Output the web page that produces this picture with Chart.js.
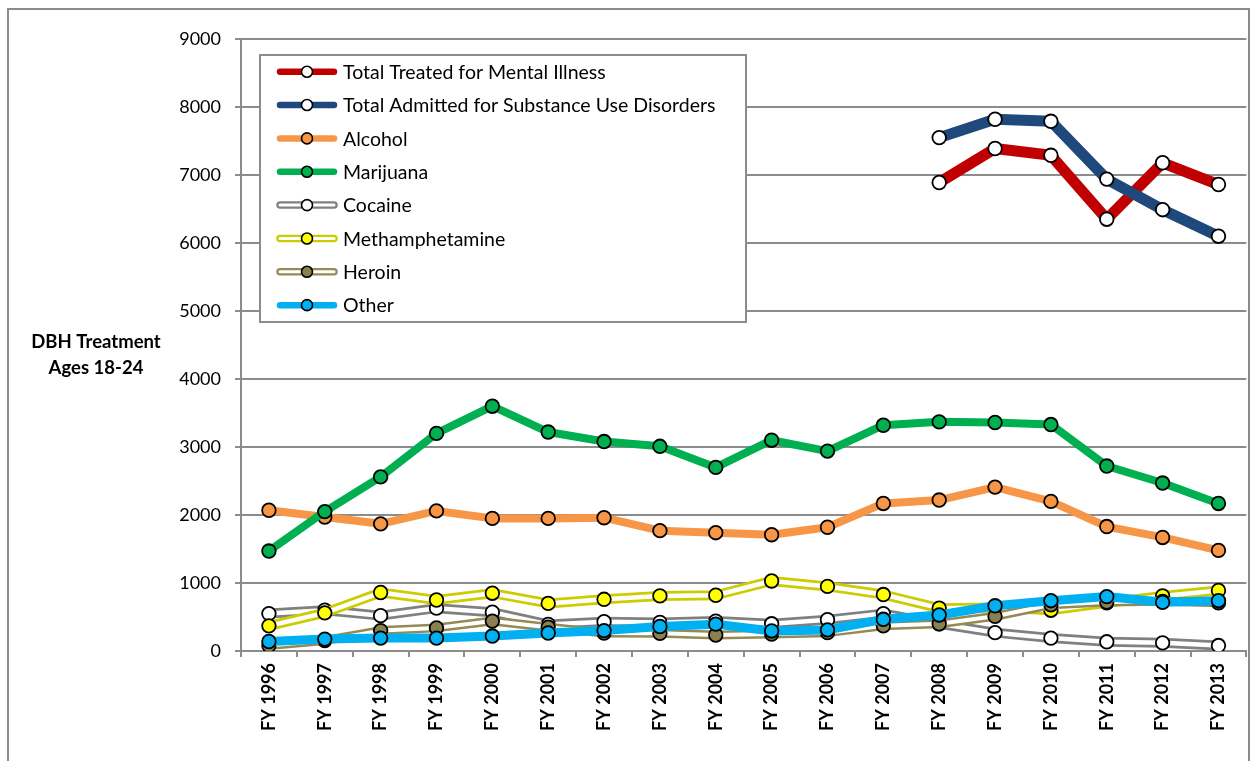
<!DOCTYPE html>
<html>
<head>
<meta charset="utf-8">
<title>DBH Treatment Ages 18-24</title>
<script src="https://cdn.jsdelivr.net/npm/chart.js@4.4.0/dist/chart.umd.min.js"></script>
<style>
    html, body { margin: 0; padding: 0; background: #fff; overflow: hidden; }
    #frame {
        position: absolute; left: 7px; top: 8px; width: 1243px; height: 800px;
        border: 2px solid #8c8c8c; box-sizing: border-box;
    }
    #chart { position: absolute; left: 0; top: 0; }
</style>
</head>
<body>
<div id="frame"></div>
<canvas id="chart" width="1255" height="761"></canvas>
<script>
const years = ['FY 1996', 'FY 1997', 'FY 1998', 'FY 1999', 'FY 2000', 'FY 2001', 'FY 2002', 'FY 2003', 'FY 2004',
               'FY 2005', 'FY 2006', 'FY 2007', 'FY 2008', 'FY 2009', 'FY 2010', 'FY 2011', 'FY 2012', 'FY 2013'];

// totals only reported from FY 2008 on
const mentalIllness = [null, null, null, null, null, null, null, null, null, null, null, null,
                       6890, 7390, 7290, 6350, 7180, 6860];
const substanceUse  = [null, null, null, null, null, null, null, null, null, null, null, null,
                       7550, 7820, 7790, 6940, 6490, 6100];

const alcohol   = [2070, 1970, 1870, 2060, 1950, 1950, 1960, 1770, 1740, 1710, 1820, 2170, 2220, 2410, 2200, 1830, 1670, 1480];
const marijuana = [1470, 2050, 2560, 3200, 3600, 3220, 3080, 3010, 2700, 3100, 2940, 3320, 3370, 3360, 3330, 2720, 2470, 2170];
const cocaine   = [550, 600, 520, 630, 570, 390, 430, 420, 440, 400, 460, 550, 400, 270, 190, 135, 120, 80];
const meth      = [370, 560, 860, 750, 850, 700, 760, 810, 820, 1030, 950, 830, 630, 640, 600, 710, 810, 890];
const heroin    = [80, 155, 300, 340, 440, 350, 265, 260, 235, 250, 270, 370, 400, 510, 680, 720, 730, 710];
const other     = [140, 175, 190, 190, 220, 265, 300, 360, 395, 295, 310, 466, 530, 665, 740, 800, 716, 740];

const yMin = 0;
const yMax = 9000;
const yStep = 1000;

const series = [
    { label: 'Total Treated for Mental Illness', data: mentalIllness, color: '#C00000', fill: '#FFFFFF', width: 11 },
    { label: 'Total Admitted for Substance Use Disorders', data: substanceUse, color: '#1F497D', fill: '#FFFFFF', width: 11 },
    { label: 'Alcohol', data: alcohol, color: '#F79646', fill: '#F79646', width: 8 },
    { label: 'Marijuana', data: marijuana, color: '#00B050', fill: '#00B050', width: 8 },
    { label: 'Cocaine', data: cocaine, color: '#808080', fill: '#FFFFFF', width: 10, hollow: 4.5 },
    { label: 'Methamphetamine', data: meth, color: '#CCCC00', fill: '#FFFF00', width: 10, hollow: 4.5 },
    { label: 'Heroin', data: heroin, color: '#948A54', fill: '#8B8150', width: 9, hollow: 4 },
    { label: 'Other', data: other, color: '#00B0F0', fill: '#00B0F0', width: 9 }
];

const FONT = 'Lato, "Open Sans", sans-serif';
const GRID = '#8c8c8c';

Chart.defaults.color = '#000';
Chart.defaults.font.family = FONT;

// hollow lines are a wide coloured stroke with a thin white stroke on top;
// lower order is drawn later, so later series sit above earlier ones
const datasets = [];
series.forEach((s, i) => {
    const base = 40 - 2 * i;
    const common = {
        data: s.data,
        tension: 0,
        spanGaps: false,
        borderJoinStyle: 'round',
        borderCapStyle: 'round'
    };
    const points = {
        pointRadius: 6.8,
        pointBackgroundColor: s.fill,
        pointBorderColor: '#000',
        pointBorderWidth: 1.8
    };
    if (s.hollow) {
        datasets.push({ ...common, label: s.label, borderColor: s.color, borderWidth: s.width, pointRadius: 0, order: base });
        datasets.push({ ...common, ...points, label: s.label + ' core', borderColor: '#FFFFFF', borderWidth: s.hollow, order: base - 1 });
    } else {
        datasets.push({ ...common, ...points, label: s.label, borderColor: s.color, borderWidth: s.width, order: base });
    }
});

const legendBox = {
    id: 'legendBox',
    afterDatasetsDraw(chart) {
        const ctx = chart.ctx;
        ctx.save();
        ctx.fillStyle = '#fff';
        ctx.strokeStyle = GRID;
        ctx.lineWidth = 2;
        ctx.fillRect(260, 55, 486, 267);
        ctx.strokeRect(260, 55, 486, 267);

        series.forEach((s, i) => {
            const y = 71.7 + i * 33.35;
            ctx.lineCap = 'round';
            ctx.beginPath();
            ctx.moveTo(280, y);
            ctx.lineTo(334, y);
            ctx.strokeStyle = s.color;
            ctx.lineWidth = s.hollow ? 7.5 : 6.5;
            ctx.stroke();
            if (s.hollow) {
                ctx.strokeStyle = '#fff';
                ctx.lineWidth = 3;
                ctx.stroke();
            }
            ctx.beginPath();
            ctx.arc(307, y, 5.5, 0, Math.PI * 2);
            ctx.fillStyle = s.fill;
            ctx.fill();
            ctx.strokeStyle = '#000';
            ctx.lineWidth = 1.6;
            ctx.stroke();

            ctx.fillStyle = '#000';
            ctx.font = '19.5px ' + FONT;
            ctx.textBaseline = 'middle';
            ctx.textAlign = 'left';
            ctx.fillText(s.label, 343, y + 1);
        });
        ctx.restore();
    }
};

const axisTitle = {
    id: 'axisTitle',
    afterDraw(chart) {
        const ctx = chart.ctx;
        ctx.save();
        ctx.fillStyle = '#000';
        ctx.font = 'bold 18.5px ' + FONT;
        ctx.textAlign = 'center';
        ctx.textBaseline = 'middle';
        ctx.fillText('DBH Treatment', 96, 342);
        ctx.fillText('Ages 18-24', 96, 368);
        ctx.restore();
    }
};

new Chart(document.getElementById('chart'), {
    type: 'line',
    data: { labels: years, datasets: datasets },
    plugins: [legendBox, axisTitle],
    options: {
        responsive: false,
        animation: false,
        layout: { padding: { top: 39, right: 4, left: 0, bottom: 0 } },
        plugins: {
            legend: { display: false },
            tooltip: { enabled: false }
        },
        scales: {
            x: {
                offset: true,
                grid: {
                    offset: true,
                    drawOnChartArea: false,
                    drawTicks: true,
                    tickLength: 6,
                    color: GRID,
                    lineWidth: 2
                },
                border: { color: GRID, width: 2 },
                ticks: {
                    autoSkip: false,
                    minRotation: 90,
                    maxRotation: 90,
                    padding: 6,
                    font: { size: 18, weight: 'bold' }
                },
                afterFit: (scale) => { scale.height = 110; }
            },
            y: {
                min: yMin,
                max: yMax,
                grid: { color: GRID, lineWidth: 2, tickLength: 6 },
                border: { color: GRID, width: 2 },
                ticks: {
                    stepSize: yStep,
                    padding: 14,
                    font: { size: 18 },
                    callback: (v) => String(v)
                },
                afterFit: (scale) => { scale.width = 241; }
            }
        }
    }
});
</script>
</body>
</html>
